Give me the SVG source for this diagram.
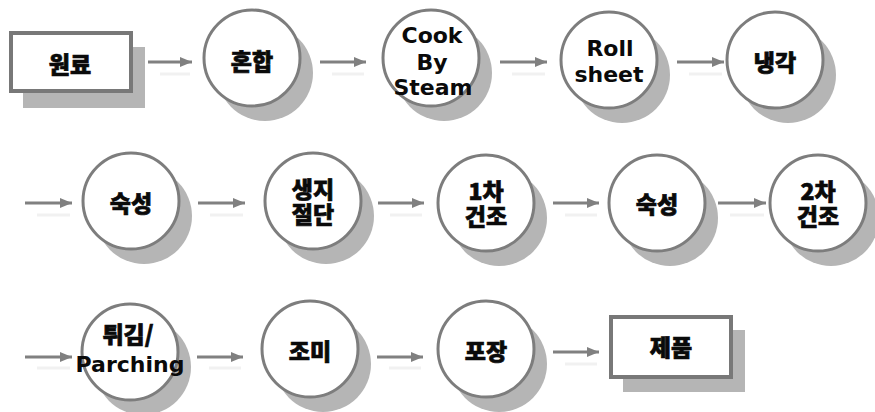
<svg xmlns="http://www.w3.org/2000/svg" width="875" height="412" viewBox="0 0 875 412">
<style>
.bg{fill:#ffffff}
.sh{fill:#b5b5b5}
.ci{fill:#ffffff;stroke:#7d7d7d;stroke-width:3}
.bx{fill:#ffffff;stroke:#787878;stroke-width:4}
.ko{font-family:"Noto Sans CJK KR","Noto Sans",sans-serif;font-weight:900;font-size:23px;fill:#0a0a0a;stroke:#0a0a0a;stroke-width:0.7;text-anchor:middle}
.en{font-family:"DejaVu Sans","Liberation Sans",sans-serif;font-weight:700;font-size:22px;fill:#0a0a0a;text-anchor:middle}
.ar{stroke:#808080;stroke-width:3;fill:none}
.ag{stroke:#f1f1f1;stroke-width:3;fill:none}
</style>
<defs>
<marker id="ah" markerUnits="userSpaceOnUse" markerWidth="14" markerHeight="12" refX="12" refY="6" orient="auto">
<path d="M0,1 L12,6 L0,11 Z" fill="#808080"/>
</marker>
</defs>
<rect class="bg" x="0" y="0" width="875" height="412"/>

<g id="connectors">
<path class="ag" d="M160,74 H190"/><path class="ar" d="M148,62 H192" marker-end="url(#ah)"/>
<path class="ag" d="M332,74 H364"/><path class="ar" d="M320,62 H366" marker-end="url(#ah)"/>
<path class="ag" d="M512,74 H545"/><path class="ar" d="M500,62 H547" marker-end="url(#ah)"/>
<path class="ag" d="M689,74 H722"/><path class="ar" d="M677,62 H724" marker-end="url(#ah)"/>

<path class="ag" d="M37,215 H70"/><path class="ar" d="M25,203 H72" marker-end="url(#ah)"/>
<path class="ag" d="M210,215 H243"/><path class="ar" d="M198,203 H245" marker-end="url(#ah)"/>
<path class="ag" d="M390,215 H422"/><path class="ar" d="M378,203 H424" marker-end="url(#ah)"/>
<path class="ag" d="M565,215 H597"/><path class="ar" d="M553,203 H599" marker-end="url(#ah)"/>
<path class="ag" d="M730,215 H764"/><path class="ar" d="M718,203 H766" marker-end="url(#ah)"/>

<path class="ag" d="M37,368 H70"/><path class="ar" d="M25,357 H72" marker-end="url(#ah)"/>
<path class="ag" d="M209,368 H241"/><path class="ar" d="M197,357 H243" marker-end="url(#ah)"/>
<path class="ag" d="M389,368 H421"/><path class="ar" d="M377,357 H423" marker-end="url(#ah)"/>
<path class="ag" d="M565,364 H597"/><path class="ar" d="M553,352 H599" marker-end="url(#ah)"/>
</g>

<g id="n-wonryo">
<rect class="sh" x="23" y="47" width="122" height="61"/>
<rect class="bx" x="11" y="33" width="120" height="58"/>
<text class="ko" x="70" y="73">원료</text>
</g>
<g id="n-honhap">
<circle class="sh" cx="265" cy="73" r="48"/>
<circle class="ci" cx="252" cy="58" r="48"/>
<text class="ko" x="252" y="70">혼합</text>
</g>
<g id="n-cook">
<circle class="sh" cx="444" cy="73" r="48"/>
<circle class="ci" cx="431" cy="58" r="48"/>
<text class="en"><tspan x="432" y="43">Cook</tspan><tspan x="432" y="70">By</tspan><tspan x="433" y="95">Steam</tspan></text>
</g>
<g id="n-roll">
<circle class="sh" cx="622" cy="75" r="48"/>
<circle class="ci" cx="609" cy="60" r="48"/>
<text class="en"><tspan x="610" y="56">Roll</tspan><tspan x="609" y="82">sheet</tspan></text>
</g>
<g id="n-naenggak">
<circle class="sh" cx="788" cy="75" r="48"/>
<circle class="ci" cx="775" cy="60" r="48"/>
<text class="ko" x="775" y="71">냉각</text>
</g>

<g id="n-sukseong1">
<circle class="sh" cx="144" cy="216" r="48"/>
<circle class="ci" cx="131" cy="201" r="48"/>
<text class="ko" x="131" y="212">숙성</text>
</g>
<g id="n-saengji">
<circle class="sh" cx="326" cy="216" r="48"/>
<circle class="ci" cx="313" cy="201" r="48"/>
<text class="ko"><tspan x="313" y="198">생지</tspan><tspan x="313" y="223">절단</tspan></text>
</g>
<g id="n-dry1">
<circle class="sh" cx="499" cy="218" r="48"/>
<circle class="ci" cx="486" cy="203" r="48"/>
<text class="ko"><tspan x="486" y="200">1차</tspan><tspan x="486" y="225">건조</tspan></text>
</g>
<g id="n-sukseong2">
<circle class="sh" cx="670" cy="218" r="48"/>
<circle class="ci" cx="657" cy="203" r="48"/>
<text class="ko" x="657" y="213">숙성</text>
</g>
<g id="n-dry2">
<circle class="sh" cx="831" cy="218" r="48"/>
<circle class="ci" cx="818" cy="203" r="48"/>
<text class="ko"><tspan x="818" y="200">2차</tspan><tspan x="818" y="225">건조</tspan></text>
</g>

<g id="n-twigim">
<circle class="sh" cx="143" cy="367" r="48"/>
<circle class="ci" cx="130" cy="352" r="48"/>
<text class="ko" x="128" y="343">튀김/</text>
<text class="en" x="130" y="372">Parching</text>
</g>
<g id="n-jomi">
<circle class="sh" cx="323" cy="364" r="48"/>
<circle class="ci" cx="310" cy="349" r="48"/>
<text class="ko" x="310" y="360">조미</text>
</g>
<g id="n-pojang">
<circle class="sh" cx="499" cy="364" r="48"/>
<circle class="ci" cx="486" cy="349" r="48"/>
<text class="ko" x="486" y="360">포장</text>
</g>
<g id="n-jepum">
<rect class="sh" x="623" y="330" width="122" height="62"/>
<rect class="bx" x="611" y="317" width="120" height="60"/>
<text class="ko" x="671" y="356">제품</text>
</g>
</svg>
